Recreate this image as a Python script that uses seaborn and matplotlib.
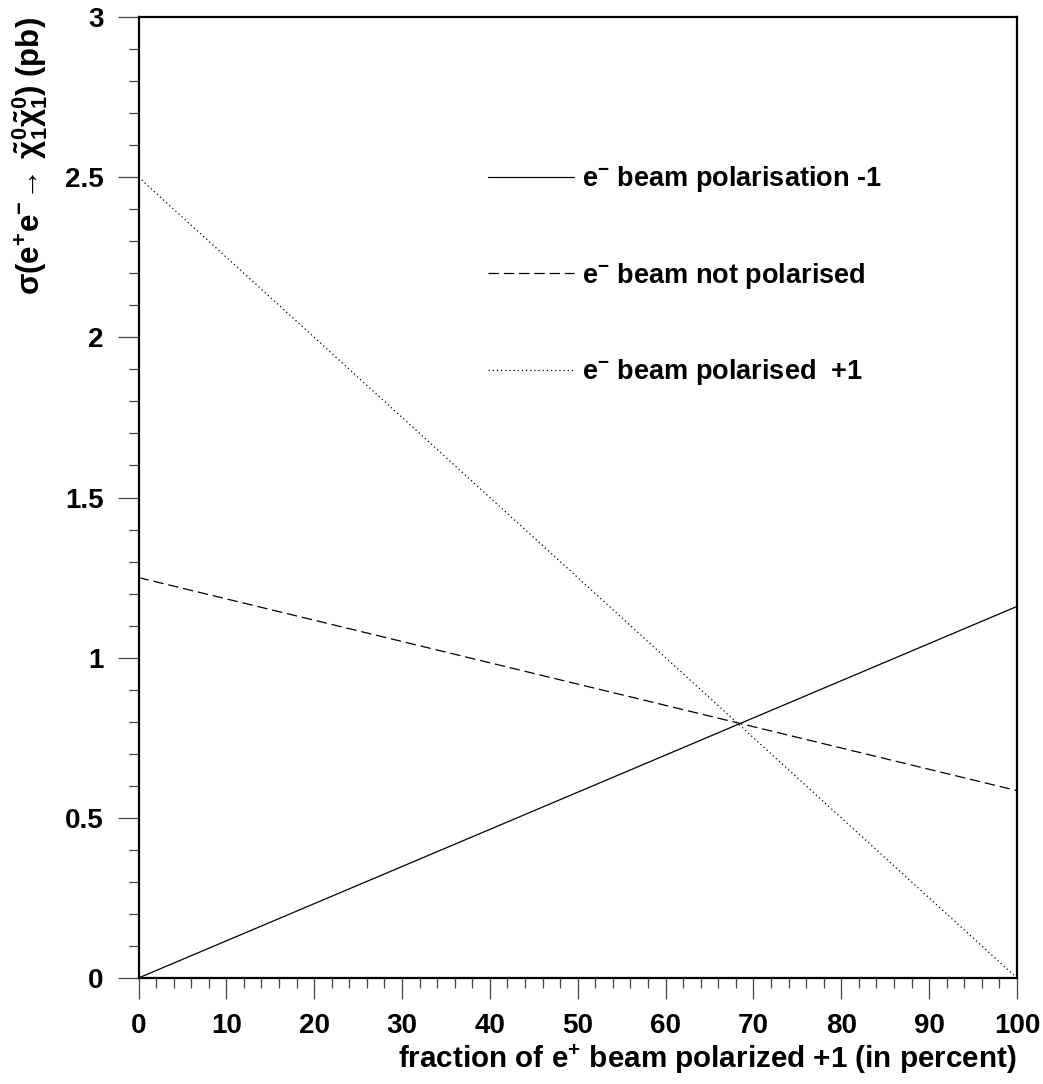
import matplotlib
matplotlib.use("Agg")
import matplotlib.pyplot as plt
import seaborn as sns
import pandas as pd
from matplotlib.ticker import MultipleLocator

# ---- data ----
x_percent = [0, 100]
sigma_pol_minus1 = [0.0, 1.16]
sigma_unpolarised = [1.25, 0.585]
sigma_pol_plus1 = [2.50, 0.0]
labels = [r"e$^{\mathbf{-}}$ beam polarisation -1",
          r"e$^{\mathbf{-}}$ beam not polarised",
          r"e$^{\mathbf{-}}$ beam polarised  +1"]
x_ticks = [0, 10, 20, 30, 40, 50, 60, 70, 80, 90, 100]
y_ticks = [0, 0.5, 1, 1.5, 2, 2.5, 3]
y_tick_labels = ["0", "0.5", "1", "1.5", "2", "2.5", "3"]

sns.set_theme(style="ticks")
plt.rcParams["font.family"] = ["Liberation Sans", "DejaVu Sans"]
plt.rcParams["font.weight"] = "bold"
plt.rcParams["text.color"] = "black"
plt.rcParams["axes.labelcolor"] = "black"
plt.rcParams["mathtext.fontset"] = "custom"
plt.rcParams["mathtext.rm"] = "Liberation Sans:bold"
plt.rcParams["mathtext.bf"] = "Liberation Sans:bold"
plt.rcParams["mathtext.it"] = "Liberation Sans:bold"
plt.rcParams["mathtext.sf"] = "Liberation Sans:bold"
plt.rcParams["lines.scale_dashes"] = False

fig = plt.figure(figsize=(10.43, 10.84), dpi=100)
ax = fig.add_axes([138.5 / 1043, 1 - 978 / 1084, (1017 - 138.5) / 1043, (978 - 17) / 1084])

series = [sigma_pol_minus1, sigma_unpolarised, sigma_pol_plus1]
styles = ["-", (0, (7.5, 3.5)), (0, (0.9, 2.1))]
for yv, lab, ls in zip(series, labels, styles):
    df = pd.DataFrame({"x": x_percent, "y": yv})
    sns.lineplot(data=df, x="x", y="y", ax=ax, color="black", lw=0.9,
                 linestyle=ls, label=lab)

ax.set_xlim(0, 100)
ax.set_ylim(0, 3)
ax.set_xticks(x_ticks)
ax.set_xticklabels([str(t) for t in x_ticks])
ax.set_yticks(y_ticks)
ax.set_yticklabels(y_tick_labels)
ax.xaxis.set_minor_locator(MultipleLocator(2))
ax.yaxis.set_minor_locator(MultipleLocator(0.1))

for s in ax.spines.values():
    s.set_visible(True)
    s.set_linewidth(1.6)
    s.set_color("black")

ax.tick_params(axis="both", which="major", direction="out", length=15,
               width=0.9, color="#444444", labelcolor="black", labelsize=20, pad=10)
ax.tick_params(axis="both", which="minor", direction="out", length=7.5,
               width=0.9, color="#444444")
ax.tick_params(top=False, right=False, which="both")
for t in ax.get_xticklabels() + ax.get_yticklabels():
    t.set_fontweight("bold")

ax.set_xlabel(r"fraction of e$^{+}$ beam polarized +1 (in percent)",
              fontsize=21.3, fontweight="bold", loc="right", labelpad=3)
ax.set_ylabel(r"$\sigma$(e$^{+}$e$^{-}$$\!\rightarrow\,\tilde{\chi}^{0}_{1}\tilde{\chi}^{0}_{1}$) (pb)",
              fontsize=22.5, fontweight="bold", loc="top", labelpad=11)

leg = ax.legend(loc="upper left", bbox_to_anchor=(0.385, 0.858), frameon=False,
                fontsize=19.5, handlelength=3.2, handletextpad=0.3,
                labelspacing=2.45, borderaxespad=0)
for t in leg.get_texts():
    t.set_fontweight("bold")

fig.savefig("out.png", dpi=100, facecolor="white")
